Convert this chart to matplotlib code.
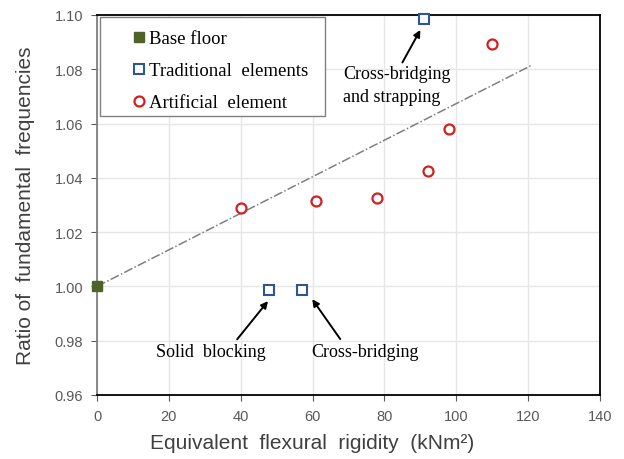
import numpy as np
import matplotlib.pyplot as plt
from matplotlib.patches import Rectangle

# data
base_x = [0]
base_y = [1.000]
trad_x = [48, 57, 91]
trad_y = [0.9985, 0.9985, 1.0985]
art_x = [40, 61, 78, 92, 98, 110]
art_y = [1.029, 1.0315, 1.0325, 1.0425, 1.058, 1.0895]
trend_x = [0, 121]
trend_y = [1.000, 1.0815]

serif = 'Liberation Serif'
sans = 'Liberation Sans'

fig = plt.figure(figsize=(6.24, 4.6), dpi=100)
ax = fig.add_axes([97/624, 64/460, 503/624, 380/460])

ax.plot(trend_x, trend_y, color='#808080', ls=(0, (6, 1.5, 1, 1.5)), lw=1.1, zorder=2)

ax.plot(base_x, base_y, 's', color='#4F6228', ms=6.5, zorder=3, label='Base floor',
        clip_on=False)
ax.plot(trad_x, trad_y, 's', mfc='white', mec='#2F5597', mew=1.5, ms=7.5, zorder=3,
        label='Traditional  elements', clip_on=False)
ax.plot(art_x, art_y, 'o', mfc='white', mec='#D02020', mew=1.6, ms=7.2, zorder=3,
        label='Artificial  element')

ax.set_xlim(0, 140)
ax.set_ylim(0.96, 1.10)
ax.set_xticks(np.arange(0, 141, 20))
ax.set_yticks(np.arange(0.96, 1.101, 0.02))
ax.yaxis.set_major_formatter(plt.FormatStrFormatter('%.2f'))
ax.grid(True, color='#E6E6E6', lw=1)
ax.set_axisbelow(True)
ax.tick_params(direction='out', length=4, labelsize=10.5, colors='#595959', pad=6)
for lab in ax.get_xticklabels() + ax.get_yticklabels():
    lab.set_family(sans)
for s in ['top', 'right', 'bottom']:
    ax.spines[s].set_color('black')
    ax.spines[s].set_linewidth(1.3)
ax.spines['left'].set_color('#808080')
ax.spines['left'].set_linewidth(1.3)

ax.set_xlabel('Equivalent  flexural  rigidity  (kNm²)', family=sans, fontsize=15,
              color='#404040')
ax.xaxis.set_label_coords(0.428, -0.1)
ax.set_ylabel('Ratio of  fundamental  frequencies', family=sans, fontsize=15,
              color='#404040')
ax.yaxis.set_label_coords(-0.123, 0.5)

# legend box drawn separately so it can be wider than the entries
ax.add_patch(Rectangle((0.006, 0.734), 0.447, 0.261, transform=ax.transAxes,
                       facecolor='white', edgecolor='#808080', lw=1.0, zorder=4))
leg = ax.legend(loc='upper left', bbox_to_anchor=(0.006, 0.99),
                prop={'family': serif, 'size': 13.5},
                handletextpad=-1.0, handlelength=3.0, borderpad=0.6, labelspacing=0.8,
                frameon=False, borderaxespad=0)
leg.set_zorder(5)

arw = dict(arrowstyle='-|>', color='black', lw=1.4, mutation_scale=10, shrinkA=0, shrinkB=0)
ax.annotate('', xy=(47.6, 0.9946), xytext=(39, 0.9805), arrowprops=arw)
ax.annotate('', xy=(59.9, 0.9953), xytext=(67.7, 0.9806), arrowprops=arw)
ax.annotate('', xy=(90, 1.0945), xytext=(85, 1.0825), arrowprops=arw)
ax.text(31.7, 0.976, 'Solid  blocking', family=serif, fontsize=13, ha='center', va='center')
ax.text(74.6, 0.976, 'Cross-bridging', family=serif, fontsize=13, ha='center', va='center')
ax.text(68.5, 1.0815, 'Cross-bridging\nand strapping', family=serif, fontsize=13,
        ha='left', va='top', linespacing=1.45)

fig.savefig('out.png', dpi=100)
